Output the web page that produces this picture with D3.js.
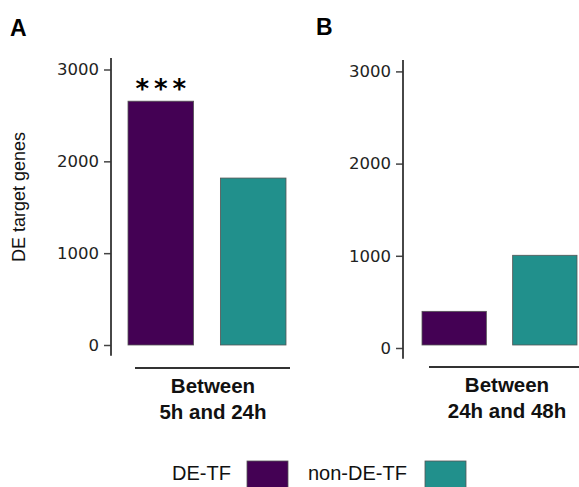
<!DOCTYPE html>
<html>
<head>
<meta charset="utf-8">
<script src="https://cdn.jsdelivr.net/npm/d3@7"></script>
<style>
  html, body { margin: 0; padding: 0; background: #fff; }
  svg { display: block; }
</style>
</head>
<body>
<svg id="chart" width="579" height="487"></svg>
<script>
// ---- data ----
const panels = ["A", "B"];
const periods = [["Between", "5h and 24h"], ["Between", "24h and 48h"]];
const series = ["DE-TF", "non-DE-TF"];
const deTF = [2655, 365];
const nonDeTF = [1818, 973];
const significance = ["***", ""];
const tickValues = [0, 1000, 2000, 3000];
const colors = ["#440154", "#21908C"];

const svg = d3.select("#chart");
const color = d3.scaleOrdinal().domain(series).range(colors);

// panel geometry
const layout = [
  { axisX: 111, barRange: [128, 286], y0: 345, y3000: 69.5, axisShift: 0, bracket: [135, 290, 368], textX: 213, textY: [393, 419], labelX: 10, labelY: 36 },
  { axisX: 403, barRange: [422, 577], y0: 345, y3000: 68.4, axisShift: 3, bracket: [429, 585, 367], textX: 507, textY: [392, 418], labelX: 316, labelY: 34.5 }
];

panels.forEach((p, i) => {
  const L = layout[i];
  const g = svg.append("g");
  const y = d3.scaleLinear().domain([0, 3000]).range([L.y0, L.y3000]);
  const x = d3.scaleBand().domain(series).range(L.barRange).paddingInner(0.29).paddingOuter(0);
  const vals = [deTF[i], nonDeTF[i]];

  // panel letter
  g.append("text").attr("x", L.labelX).attr("y", L.labelY)
    .attr("font-family", "Liberation Sans, Arial, sans-serif")
    .attr("font-weight", "bold").attr("font-size", 23).attr("fill", "#000").text(p);

  // axis
  const axG = g.append("g").attr("transform", `translate(${L.axisX},${L.axisShift})`)
    .call(d3.axisLeft(y).tickValues(tickValues).tickFormat(d3.format("d")).tickSize(7).tickSizeOuter(0).tickPadding(5));
  axG.select(".domain").remove();
  axG.selectAll(".tick line").attr("stroke", "#444").attr("stroke-width", 1.5);
  axG.selectAll(".tick text").attr("font-family", "DejaVu Sans, sans-serif").attr("font-size", 16.5).attr("fill", "#222");
  axG.append("line").attr("x1", 0).attr("x2", 0)
    .attr("y1", y(3000) - 11.5).attr("y2", y(0) + 10.8)
    .attr("stroke", "#333").attr("stroke-width", 1.8);

  // bars
  g.selectAll("rect.bar").data(series).enter().append("rect")
    .attr("class", "bar")
    .attr("x", d => x(d))
    .attr("width", x.bandwidth())
    .attr("y", (d, j) => y(vals[j]))
    .attr("height", (d, j) => y(0) - y(vals[j]))
    .attr("fill", d => color(d))
    .attr("stroke", "#555").attr("stroke-width", 0.8);

  // significance
  if (significance[i]) {
    g.append("text")
      .attr("x", x(series[0]) + x.bandwidth() / 2 + 2.5)
      .attr("y", y(deTF[i]) - 3)
      .attr("text-anchor", "middle")
      .attr("font-family", "DejaVu Sans, sans-serif")
      .attr("font-weight", "bold").attr("font-size", 26)
      .attr("letter-spacing", 5)
      .attr("fill", "#000")
      .text(significance[i]);
  }

  // bracket
  g.append("line").attr("x1", L.bracket[0]).attr("x2", L.bracket[1])
    .attr("y1", L.bracket[2]).attr("y2", L.bracket[2])
    .attr("stroke", "#333").attr("stroke-width", 1.8);

  periods[i].forEach((t, k) => {
    g.append("text").attr("x", L.textX).attr("y", L.textY[k])
      .attr("text-anchor", "middle")
      .attr("font-family", "Liberation Sans, Arial, sans-serif")
      .attr("font-weight", "bold").attr("font-size", 20.5).attr("fill", "#111")
      .text(t);
  });
});

// y axis title
svg.append("text")
  .attr("transform", "translate(25,197) rotate(-90)")
  .attr("text-anchor", "middle")
  .attr("font-family", "Liberation Sans, Arial, sans-serif")
  .attr("font-size", 18).attr("fill", "#111")
  .text("DE target genes");

// legend
const legendPos = [{ tx: 172, bx: 247 }, { tx: 308, bx: 425 }];
series.forEach((s, i) => {
  svg.append("text").attr("x", legendPos[i].tx).attr("y", 480)
    .attr("font-family", "Liberation Sans, Arial, sans-serif")
    .attr("font-size", 20).attr("fill", "#111").text(s);
  svg.append("rect").attr("x", legendPos[i].bx).attr("y", 461)
    .attr("width", 41).attr("height", 30)
    .attr("fill", color(s)).attr("stroke", "#555").attr("stroke-width", 0.8);
});
</script>
</body>
</html>
